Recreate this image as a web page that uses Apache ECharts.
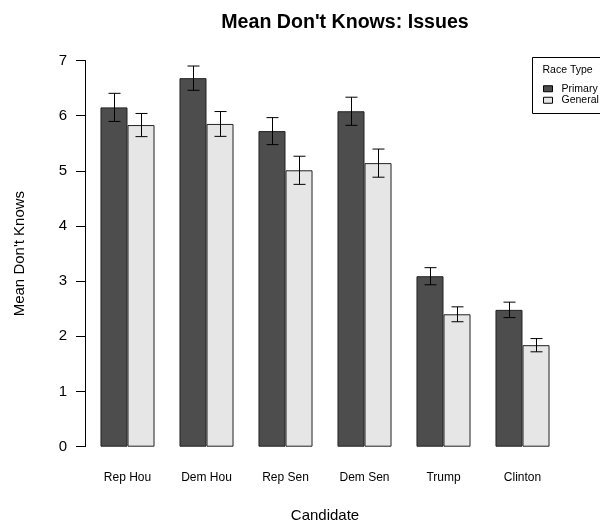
<!DOCTYPE html>
<html>
<head>
<meta charset="utf-8">
<script src="https://cdn.jsdelivr.net/npm/echarts@6/dist/echarts.min.js"></script>
<style>
  html, body { margin: 0; padding: 0; background: #fff; }
  #chart { width: 600px; height: 525px; }
</style>
</head>
<body>
<div id="chart"></div>
<script>
// Mean number of "don't know" answers on issue questions, by candidate and race type
const categories = ['Rep Hou', 'Dem Hou', 'Rep Sen', 'Dem Sen', 'Trump', 'Clinton'];
const primaryMeans = [6.15, 6.68, 5.72, 6.08, 3.09, 2.48];
const generalMeans = [5.83, 5.85, 5.01, 5.14, 2.40, 1.84];
const primaryErr = [0.255, 0.22, 0.245, 0.255, 0.155, 0.14];
const generalErr = [0.21, 0.225, 0.255, 0.255, 0.135, 0.12];
const yTicks = [0, 1, 2, 3, 4, 5, 6, 7];

const FONT = 'Liberation Sans, Arial, sans-serif';
const GAP_PCT = 0.316;

// error-bar rows: [categoryIndex, low, high]
function errRows(means, errs) {
  return means.map((m, i) => [i, m - errs[i], m + errs[i]]);
}

// draws an I-beam whisker; side = -1 for the left bar of a pair, +1 for the right one
function whisker(side) {
  return function (params, api) {
    const i = api.value(0);
    const lo = api.coord([i, api.value(1)]);
    const hi = api.coord([i, api.value(2)]);
    const band = api.size([1, 0])[0];
    const barW = band * (1 - GAP_PCT) / 2;
    const x = Math.round(lo[0] + side * barW / 2) + 0.5;
    const cap = 6;
    const style = { stroke: '#000', lineWidth: 1 };
    return {
      type: 'group',
      children: [
        { type: 'line', shape: { x1: x, y1: lo[1], x2: x, y2: hi[1] }, style },
        { type: 'line', shape: { x1: x - cap, y1: lo[1], x2: x + cap, y2: lo[1] }, style },
        { type: 'line', shape: { x1: x - cap, y1: hi[1], x2: x + cap, y2: hi[1] }, style }
      ]
    };
  };
}

const chart = echarts.init(document.getElementById('chart'), null, { renderer: 'canvas' });

chart.setOption({
  animation: false,
  backgroundColor: '#fff',
  textStyle: { fontFamily: FONT },
  title: {
    text: "Mean Don't Knows: Issues",
    left: 340,
    textAlign: 'center',
    top: 8,
    textStyle: { fontFamily: FONT, fontSize: 19.6, fontWeight: 'bold', color: '#000' }
  },
  grid: { left: 88, right: 38, top: 60.5, bottom: 78.3, containLabel: false, outerBoundsMode: 'none' },
  legend: {
    orient: 'vertical',
    left: 543,
    top: 83,
    itemWidth: 9,
    itemHeight: 6,
    itemGap: 0,
    padding: 0,
    icon: 'rect',
    data: ['Primary', 'General'],
    textStyle: { fontFamily: FONT, fontSize: 10.5, lineHeight: 11.5, color: '#000', padding: [0, 0, 0, 4] },
    itemStyle: { borderColor: '#000', borderWidth: 1 }
  },
  graphic: [
    {
      type: 'rect',
      shape: { x: 532.5, y: 57.5, width: 80, height: 56 },
      style: { fill: 'none', stroke: '#000', lineWidth: 1 },
      silent: true
    },
    {
      type: 'text',
      left: 542.5,
      top: 64.5,
      style: { text: 'Race Type', fontFamily: FONT, fontSize: 10.5, fill: '#000' }
    }
  ],
  xAxis: {
    type: 'category',
    data: categories,
    axisLine: { show: false },
    axisTick: { show: false },
    axisLabel: { color: '#000', fontSize: 12, margin: 25, fontFamily: FONT },
    name: 'Candidate',
    nameLocation: 'middle',
    nameGap: 62,
    nameTextStyle: { fontSize: 15, color: '#000', fontFamily: FONT }
  },
  yAxis: {
    type: 'value',
    min: 0,
    max: 7,
    interval: 1,
    offset: 3,
    splitLine: { show: false },
    axisLine: { show: true, lineStyle: { color: '#000', width: 1 } },
    axisTick: { show: true, length: 9, lineStyle: { color: '#000' } },
    axisLabel: {
      color: '#000', fontSize: 15, margin: 18, fontFamily: FONT,
      formatter: v => (yTicks.includes(v) ? String(v) : '')
    },
    name: "Mean Don't Knows",
    nameLocation: 'middle',
    nameGap: 58,
    nameTextStyle: { fontSize: 15, color: '#000', fontFamily: FONT }
  },
  series: [
    {
      name: 'Primary',
      type: 'bar',
      data: primaryMeans,
      barGap: '0%',
      barCategoryGap: (GAP_PCT * 100) + '%',
      itemStyle: { color: '#4d4d4d', borderColor: '#222', borderWidth: 1 }
    },
    {
      name: 'General',
      type: 'bar',
      data: generalMeans,
      barGap: '0%',
      barCategoryGap: (GAP_PCT * 100) + '%',
      itemStyle: { color: '#e6e6e6', borderColor: '#222', borderWidth: 1 }
    },
    {
      type: 'custom',
      renderItem: whisker(-1),
      data: errRows(primaryMeans, primaryErr),
      encode: { x: 0, y: [1, 2] },
      z: 10
    },
    {
      type: 'custom',
      renderItem: whisker(1),
      data: errRows(generalMeans, generalErr),
      encode: { x: 0, y: [1, 2] },
      z: 10
    }
  ]
});
</script>
</body>
</html>
